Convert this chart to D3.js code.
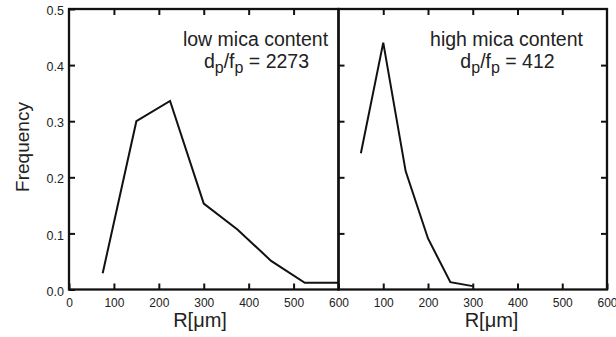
<!DOCTYPE html>
<html><head><meta charset="utf-8">
<script src="https://cdn.jsdelivr.net/npm/d3@7/dist/d3.min.js"></script>
<style>
body{margin:0;background:#fff;}
svg{display:block;font-family:"Liberation Sans",Arial,sans-serif;}
</style></head>
<body><svg id="c" width="616" height="337"></svg>
<script>
const lowR = [75, 150, 225, 300, 375, 450, 525, 600];
const lowFreq = [0.029, 0.300, 0.336, 0.153, 0.107, 0.051, 0.012, 0.012];
const highR = [50, 100, 150, 200, 250, 300];
const highFreq = [0.243, 0.440, 0.211, 0.091, 0.013, 0.006];
const yTicks = [0.0, 0.1, 0.2, 0.3, 0.4, 0.5];
const xTicksLeft = [0, 100, 200, 300, 400, 500, 600];
const xTicksRight = [100, 200, 300, 400, 500, 600];
const panelTitles = ["low mica content", "high mica content"];
const ratioValues = ["2273", "412"];
const xTitle = "R[\u03bcm]";
const yTitle = "Frequency";

const svg = d3.select("#c");
const plotTop = 9, plotBottom = 289.5;
const y = d3.scaleLinear().domain([0, 0.5]).range([plotBottom, plotTop]);
const xL = d3.scaleLinear().domain([0, 600]).range([69, 338.5]);
const xR = d3.scaleLinear().domain([0, 600]).range([338.5, 607]);

function panel(x, data, ticks, isLeft, title, ratio, titleX, xTitleX) {
  const g = svg.append("g");
  const ax = g.append("g").attr("transform", `translate(0,${plotBottom})`)
    .call(d3.axisBottom(x).tickValues(ticks).tickSize(-6).tickPadding(9).tickFormat(d3.format("d")));
  ax.select(".domain").remove();
  ax.selectAll("text").attr("font-size", 12).attr("fill", "#222").attr("font-family", "Liberation Sans, Arial, sans-serif");
  ax.selectAll("line").attr("stroke", "#111").attr("stroke-width", 2);
  const at = g.append("g").attr("transform", `translate(0,${plotTop})`)
    .call(d3.axisTop(x).tickValues([100,200,300,400,500]).tickSize(-6).tickFormat(""));
  at.select(".domain").remove();
  at.selectAll("line").attr("stroke", "#111").attr("stroke-width", 2);
  const al = g.append("g").attr("transform", `translate(${x.range()[0]},0)`)
    .call(d3.axisLeft(y).tickValues(isLeft ? yTicks : [0.1,0.2,0.3,0.4]).tickSize(-6).tickPadding(5)
      .tickFormat(isLeft ? d3.format(".1f") : ""));
  al.select(".domain").remove();
  al.selectAll("text").attr("font-size", 12.5).attr("fill", "#222").attr("dy", "0.45em")
    .attr("font-family", "Liberation Sans, Arial, sans-serif");
  al.selectAll("line").attr("stroke", "#111").attr("stroke-width", 2);
  if (!isLeft) {
    const ar = g.append("g").attr("transform", `translate(${x.range()[1]},0)`)
      .call(d3.axisRight(y).tickValues([0.1,0.2,0.3,0.4]).tickSize(-6).tickFormat(""));
    ar.select(".domain").remove();
    ar.selectAll("line").attr("stroke", "#111").attr("stroke-width", 2);
  }
  g.append("rect").attr("x", x.range()[0]).attr("y", plotTop)
    .attr("width", x.range()[1] - x.range()[0]).attr("height", plotBottom - plotTop)
    .attr("fill", "none").attr("stroke", "#111").attr("stroke-width", 2.3);
  const line = d3.line().x(d => x(d[0])).y(d => y(d[1]));
  g.append("path").datum(data).attr("d", line)
    .attr("fill", "none").attr("stroke", "#111").attr("stroke-width", 2).attr("stroke-linejoin", "miter");
  g.append("text").attr("x", titleX).attr("y", 46).attr("text-anchor", "middle")
    .attr("font-size", 19.5).attr("fill", "#222").text(title);
  const t = g.append("text").attr("x", titleX + 1).attr("y", 68).attr("text-anchor", "middle")
    .attr("font-size", 19.5).attr("fill", "#222");
  t.append("tspan").text("d");
  t.append("tspan").attr("dy", 5).attr("font-size", 16).text("p");
  t.append("tspan").attr("dy", -5).text("/f");
  t.append("tspan").attr("dy", 5).attr("font-size", 16).text("p");
  t.append("tspan").attr("dy", -5).text(" = " + ratio);
  g.append("text").attr("x", xTitleX).attr("y", 327).attr("text-anchor", "middle")
    .attr("font-size", 20).attr("fill", "#222").text(xTitle);
}

panel(xL, lowR.map((r, i) => [r, lowFreq[i]]), xTicksLeft, true, panelTitles[0], ratioValues[0], 255.5, 200);
panel(xR, highR.map((r, i) => [r, highFreq[i]]), xTicksRight, false, panelTitles[1], ratioValues[1], 506.5, 491.5);

svg.append("text").attr("transform", "translate(29,147) rotate(-90)")
  .attr("text-anchor", "middle").attr("font-size", 19).attr("fill", "#222").text(yTitle);
</script>
</body></html>
